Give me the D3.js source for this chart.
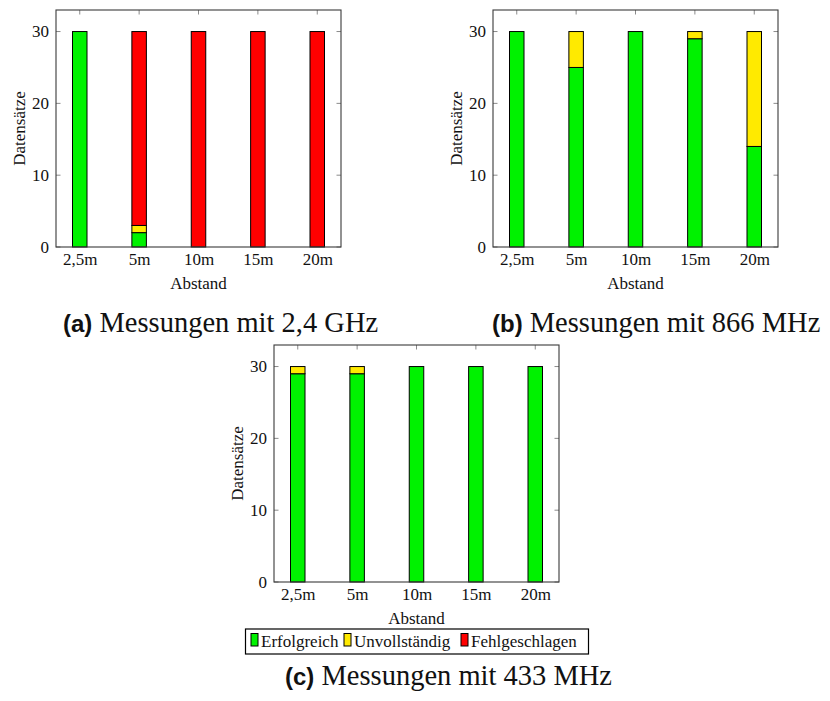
<!DOCTYPE html>
<html>
<head>
<meta charset="utf-8">
<script src="https://cdn.jsdelivr.net/npm/d3@7"></script>
<style>
  html, body { margin: 0; padding: 0; background: #fff; }
  svg { display: block; }
  .serif { font-family: "Liberation Serif", "DejaVu Serif", serif; }
  .capLabel { font-family: "Liberation Sans", "DejaVu Sans", sans-serif; font-weight: bold; }
</style>
</head>
<body>
<svg id="chart" width="830" height="701"></svg>
<script>
// Distances (x axis categories)
const categories = ["2,5m", "5m", "10m", "15m", "20m"];
const seriesNames = ["Erfolgreich", "Unvollständig", "Fehlgeschlagen"];
const seriesColors = ["#00f200", "#ffea00", "#ff0000"];
const yTicks = [0, 10, 20, 30];

// 2,4 GHz
const ghz24Erfolgreich    = [30, 2, 0, 0, 0];
const ghz24Unvollstaendig = [0, 1, 0, 0, 0];
const ghz24Fehlgeschlagen = [0, 27, 30, 30, 30];
// 866 MHz
const mhz866Erfolgreich    = [30, 25, 30, 29, 14];
const mhz866Unvollstaendig = [0, 5, 0, 1, 16];
const mhz866Fehlgeschlagen = [0, 0, 0, 0, 0];
// 433 MHz
const mhz433Erfolgreich    = [29, 29, 30, 30, 30];
const mhz433Unvollstaendig = [1, 1, 0, 0, 0];
const mhz433Fehlgeschlagen = [0, 0, 0, 0, 0];

const panelLabels = ["(a)", "(b)", "(c)"];
const panelTitles = ["Messungen mit 2,4 GHz", "Messungen mit 866 MHz", "Messungen mit 433 MHz"];

const panels = [
  { series: [ghz24Erfolgreich, ghz24Unvollstaendig, ghz24Fehlgeschlagen], x: 56, y: 10, capX: 63, capY: 332, legend: false },
  { series: [mhz866Erfolgreich, mhz866Unvollstaendig, mhz866Fehlgeschlagen], x: 493, y: 10, capX: 492, capY: 332, legend: false },
  { series: [mhz433Erfolgreich, mhz433Unvollstaendig, mhz433Fehlgeschlagen], x: 274, y: 345, capX: 285, capY: 685, legend: true }
];

const W = 285, H = 237;
const svg = d3.select("#chart");

const x = d3.scalePoint().domain(categories).range([0, W]).padding(0.4);
const y = d3.scaleLinear().domain([0, 33]).range([H, 0]);
const barW = 14.5;
const axisColor = "#3a3a3a";
const tickColor = "#8a8a8a";

panels.forEach((p, pi) => {
  const g = svg.append("g").attr("transform", `translate(${p.x},${p.y})`);

  const rows = categories.map((c, i) => {
    const r = { cat: c };
    seriesNames.forEach((s, k) => r[s] = p.series[k][i]);
    return r;
  });
  const stacked = d3.stack().keys(seriesNames)(rows);

  // inner tick marks (pgfplots style)
  const tickLen = 4.5;
  const tg = g.append("g").attr("stroke", tickColor).attr("stroke-width", 1);
  yTicks.forEach(t => {
    tg.append("line").attr("x1", 0).attr("x2", tickLen).attr("y1", y(t)).attr("y2", y(t));
    tg.append("line").attr("x1", W).attr("x2", W - tickLen).attr("y1", y(t)).attr("y2", y(t));
  });
  categories.forEach(c => {
    tg.append("line").attr("x1", x(c)).attr("x2", x(c)).attr("y1", 0).attr("y2", tickLen);
    tg.append("line").attr("x1", x(c)).attr("x2", x(c)).attr("y1", H).attr("y2", H - tickLen);
  });

  // stacked bars
  stacked.forEach((layer, k) => {
    g.append("g")
      .selectAll("rect")
      .data(layer.filter(d => d[1] - d[0] > 0))
      .join("rect")
      .attr("x", d => x(d.data.cat) - barW / 2)
      .attr("y", d => y(d[1]))
      .attr("width", barW)
      .attr("height", d => y(d[0]) - y(d[1]))
      .attr("fill", seriesColors[k])
      .attr("stroke", "#000")
      .attr("stroke-width", 1);
  });

  // axis frame
  g.append("rect").attr("x", 0).attr("y", 0).attr("width", W).attr("height", H)
    .attr("fill", "none").attr("stroke", axisColor).attr("stroke-width", 1.1);

  // y tick labels
  const yAxis = d3.axisLeft(y).tickValues(yTicks).tickSize(0).tickPadding(7);
  const ya = g.append("g").call(yAxis);
  ya.select(".domain").remove();
  ya.selectAll("text").attr("class", "serif").style("font-size", "17px").attr("fill", "#111");

  // x tick labels
  const xAxis = d3.axisBottom(x).tickSize(0).tickPadding(6);
  const xa = g.append("g").attr("transform", `translate(0,${H})`).call(xAxis);
  xa.select(".domain").remove();
  xa.selectAll("text").attr("class", "serif").style("font-size", "17px").attr("fill", "#111");

  // axis titles
  g.append("text").attr("class", "serif").attr("x", W / 2).attr("y", H + 42)
    .attr("text-anchor", "middle").style("font-size", "17px").attr("fill", "#111").text("Abstand");
  g.append("text").attr("class", "serif")
    .attr("transform", `translate(-31,${H / 2}) rotate(-90)`)
    .attr("text-anchor", "middle").style("font-size", "17px").attr("fill", "#111").text("Datensätze");

  // legend
  if (p.legend) {
    const lg = svg.append("g");
    const lx = 245.5, ly = 629, lw = 343, lh = 25;
    lg.append("rect").attr("x", lx).attr("y", ly).attr("width", lw).attr("height", lh)
      .attr("fill", "#fff").attr("stroke", "#000").attr("stroke-width", 1.2);
    const swatchX = [251, 344, 461];
    seriesNames.forEach((s, k) => {
      lg.append("rect").attr("x", swatchX[k]).attr("y", 633.5).attr("width", 7).attr("height", 12.5)
        .attr("fill", seriesColors[k]).attr("stroke", "#000").attr("stroke-width", 1);
      lg.append("text").attr("class", "serif").attr("x", swatchX[k] + 10).attr("y", 647)
        .style("font-size", "17px").attr("fill", "#111").text(s);
    });
  }

  // caption
  const cap = svg.append("text").attr("x", p.capX).attr("y", p.capY).attr("fill", "#111");
  cap.append("tspan").attr("class", "capLabel").style("font-size", "24px").text(panelLabels[pi]);
  cap.append("tspan").attr("class", "serif").style("font-size", "28.5px").text("\u00a0" + panelTitles[pi]);
});
</script>
</body>
</html>
